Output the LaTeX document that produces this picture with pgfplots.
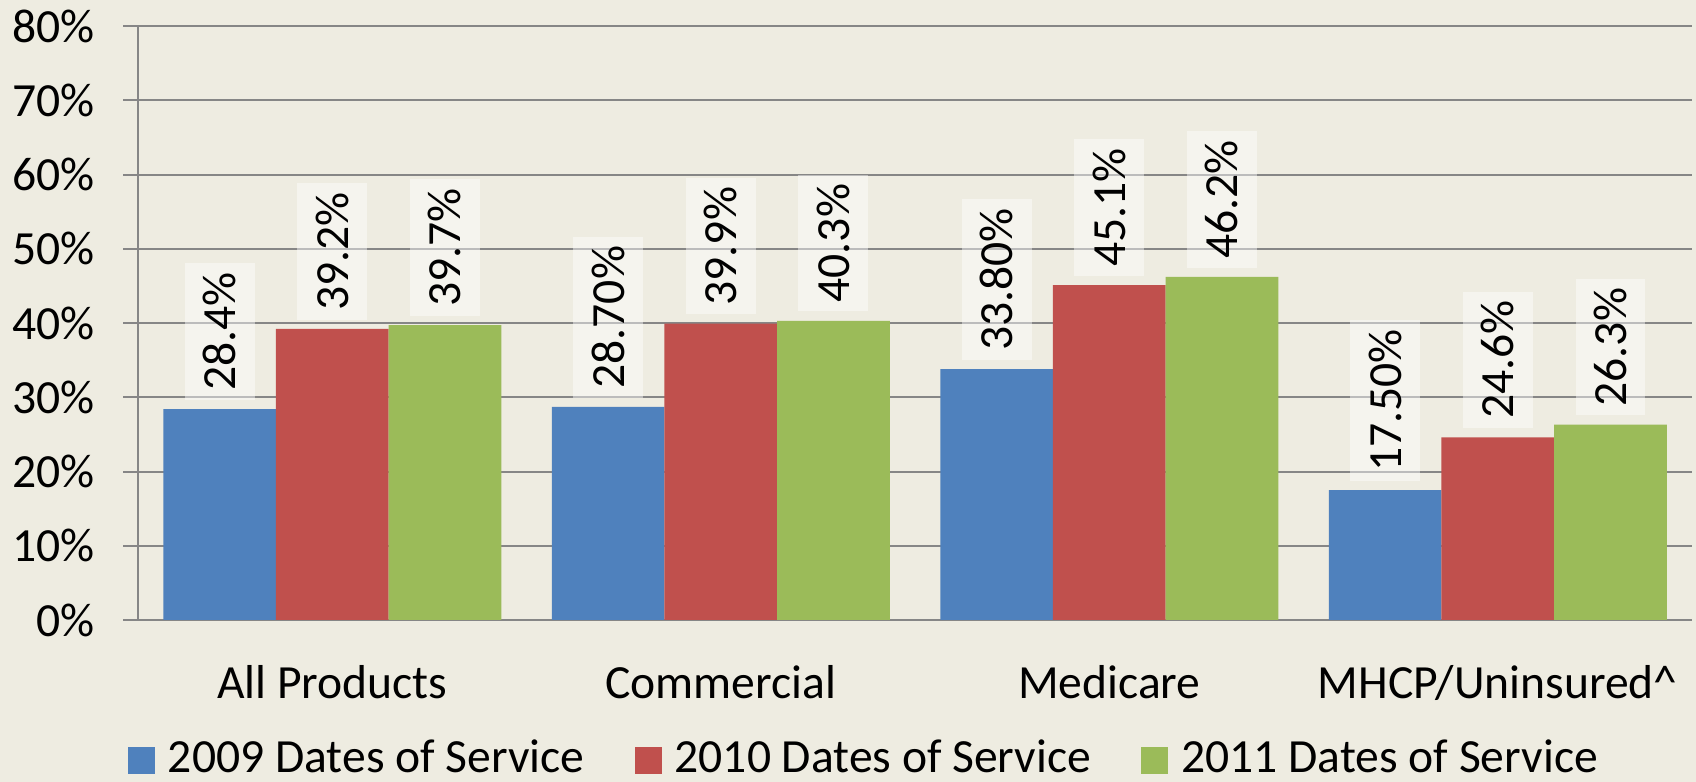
\documentclass[border=0pt]{standalone}
\usepackage{pgfplots}
\pgfplotsset{compat=1.18}
\usepackage{pgfplotstable}
\usepackage{fontspec}
\setmainfont{Carlito}
\definecolor{bg}{RGB}{238,236,225}
\definecolor{gridc}{RGB}{134,134,134}
\definecolor{c1}{RGB}{79,129,189}
\definecolor{c2}{RGB}{192,80,77}
\definecolor{c3}{RGB}{155,187,89}
\newcommand{\chfont}{\fontsize{23.8bp}{28bp}\selectfont}

\pgfplotstableread{
x v09 l09 v10 l10 v11 l11
0 28.4 28.4 39.2 39.2 39.7 39.7
1 28.7 28.70 39.9 39.9 40.3 40.3
2 33.8 33.80 45.1 45.1 46.2 46.2
3 17.5 17.50 24.6 24.6 26.3 26.3
}\datatab

\pgfplotsset{sqleg/.style={legend image code/.code={\fill[##1, draw=none] (0bp,-8bp) rectangle (13.5bp,5.5bp);}}}

\begin{document}
\begin{tikzpicture}
\fill[bg] (0,0) rectangle (848bp,391bp);
\path[use as bounding box] (0,0) rectangle (848bp,391bp);
\begin{axis}[
  at={(69bp,81bp)}, anchor=south west,
  width=777bp, height=297bp, scale only axis,
  ybar=0pt, bar width=0.29,
  xmin=-0.5, xmax=3.5, ymin=0, ymax=80,
  axis x line*=bottom, axis y line*=left,
  axis line style={-, draw=gridc, line width=1bp},
  ytick={0,10,...,80},
  yticklabel={\pgfmathprintnumber[assume math mode=true]{\tick}\%},
  ymajorgrids, grid style={draw=gridc, line width=1bp},
  xtick={0,1,2,3},
  xticklabels={All Products, Commercial, Medicare, MHCP/Uninsured\textasciicircum},
  x tick style={draw=none},
  y tick style={draw=gridc, line width=1bp},
  major tick length=7.5bp, tick align=outside,
  extra x ticks={-0.5,0.5,1.5,2.5,3.5},
  extra x tick labels={},
  extra x tick style={tick style={draw=gridc, line width=1bp}, major tick length=7.5bp, tick align=outside, grid=none},
  tick label style={font=\chfont, text=black, inner sep=0pt},
  yticklabel style={anchor=east, xshift=-13.85bp},
  xticklabel style={anchor=base, yshift=-31.5bp},
  point meta=explicit symbolic,
  nodes near coords={\pgfplotspointmeta\%},
  every node near coord/.append style={yshift=4.5bp, rotate=90, anchor=west, fill=white, fill opacity=0.45, text opacity=1, inner xsep=4.5bp, inner ysep=9.25bp, font=\chfont, text=black},
  legend style={at={(-0.00644,-0.2324)}, anchor=west, draw=none, fill=none, inner sep=0pt, outer sep=0pt,
    font=\chfont, legend columns=-1,
    /tikz/every odd column/.append style={column sep=6.5bp},
    /tikz/every even column/.append style={column sep=25bp},
    nodes={inner sep=0pt}},
  legend cell align=left,
]
\addplot[fill=c1, draw=none, sqleg] table[x=x, y=v09, meta=l09] {\datatab};
\addplot[fill=c2, draw=none, sqleg] table[x=x, y=v10, meta=l10] {\datatab};
\addplot[fill=c3, draw=none, sqleg] table[x=x, y=v11, meta=l11] {\datatab};
\legend{2009 Dates of Service, 2010 Dates of Service, 2011 Dates of Service}
\end{axis}
\end{tikzpicture}
\end{document}
